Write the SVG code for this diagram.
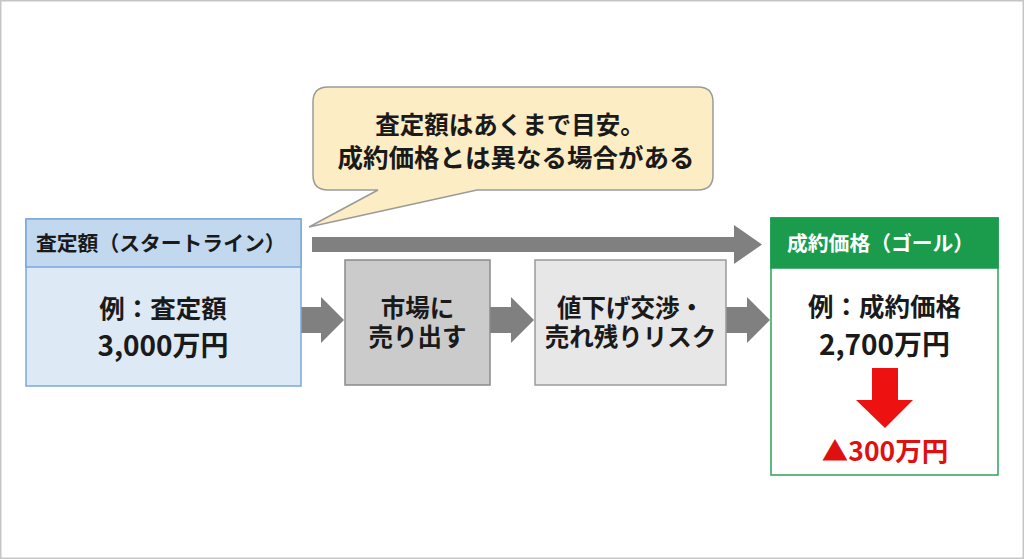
<svg xmlns="http://www.w3.org/2000/svg" width="1024" height="559" viewBox="0 0 1024 559">
<style>
text{font-family:"Noto Sans CJK JP","Noto Sans",sans-serif;font-weight:700;fill:#1a1a1a}
.c{text-anchor:middle}
.arrow{fill:#808080}
</style>
<rect x="0.75" y="0.75" width="1022.5" height="557.5" fill="#ffffff" stroke="#c6c6c6" stroke-width="1.5"/>
<g id="connectors">
  <polygon class="arrow" points="312,237 734,237 734,225 762,244.5 734,264 734,252 312,252"/>
  <polygon class="arrow" points="300,307 321,307 321,297 344,320 321,343 321,333 300,333"/>
  <polygon class="arrow" points="490,307 511,307 511,297 534,320 511,343 511,333 490,333"/>
  <polygon class="arrow" points="726,307 747,307 747,297 770,320 747,343 747,333 726,333"/>
</g>
<g id="bubble">
  <path d="M328,87 H698 Q713,87 713,102 V175 Q713,190 698,190 H477 L309,227 L378,190 H328 Q313,190 313,175 V102 Q313,87 328,87 Z" fill="#fcedc4" stroke="#9a9a9a" stroke-width="1.5"/>
  <text class="c" x="510" y="134" font-size="24.5">査定額はあくまで目安。</text>
  <text class="c" x="516" y="167" font-size="25.5">成約価格とは異なる場合がある</text>
</g>
<g id="start">
  <rect x="26" y="219" width="275" height="167" fill="#dde9f5" stroke="#7aa8da" stroke-width="1.5"/>
  <rect x="26" y="219" width="275" height="48" fill="#c2d8ef" stroke="#7aa8da" stroke-width="1.5"/>
  <text x="36" y="251" font-size="20.8">査定額（スタートライン）</text>
  <text class="c" x="163" y="318" font-size="25.5">例：査定額</text>
  <text class="c" x="163" y="356" font-size="28">3,000万円</text>
</g>
<g id="market">
  <rect x="345" y="260" width="145" height="125" fill="#cbcbcb" stroke="#8a8a8a" stroke-width="1.5"/>
  <text class="c" x="417.5" y="317" font-size="24.5">市場に</text>
  <text class="c" x="417.5" y="346" font-size="24.5">売り出す</text>
</g>
<g id="risk">
  <rect x="535" y="260" width="191" height="125" fill="#e7e7e7" stroke="#9a9a9a" stroke-width="1.5"/>
  <text class="c" x="630.5" y="317" font-size="24.5">値下げ交渉・</text>
  <text class="c" x="630.5" y="346" font-size="24.5">売れ残りリスク</text>
</g>
<g id="goal">
  <rect x="771" y="218" width="227" height="257" fill="#ffffff" stroke="#2ea35a" stroke-width="1.5"/>
  <rect x="771" y="218" width="227" height="50" fill="#1a9c4c" stroke="#1a9c4c" stroke-width="1.5"/>
  <text x="787" y="251" font-size="20.8" style="fill:#ffffff">成約価格（ゴール）</text>
  <text class="c" x="884.5" y="316" font-size="25.5">例：成約価格</text>
  <text class="c" x="884.5" y="355" font-size="28">2,700万円</text>
  <polygon points="872,368 898,368 898,400 913,400 885,428 856,400 872,400" fill="#ee1111"/>
  <text class="c" x="885" y="461" font-size="26.5" style="fill:#e01010">▲300万円</text>
</g>
</svg>
